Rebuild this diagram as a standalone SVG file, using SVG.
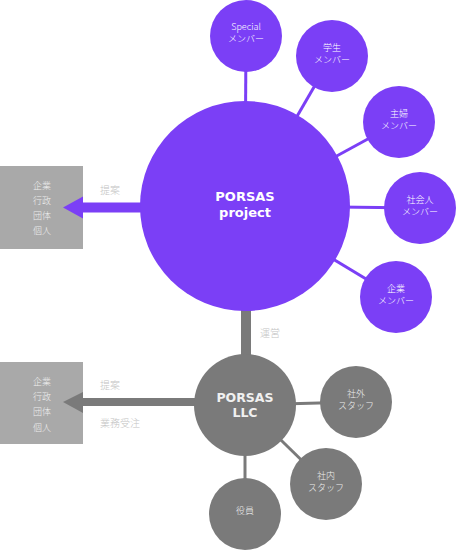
<svg xmlns="http://www.w3.org/2000/svg" width="456" height="550" viewBox="0 0 456 550">
<style>
.p{fill:#7b3ff6}
.g{fill:#7a7a7a}
.box{fill:#a9a9a9}
.lp{stroke:#7b3ff6;stroke-width:3}
.lg{stroke:#7a7a7a;stroke-width:3}
.t{font-family:"Noto Sans CJK JP","Liberation Sans",sans-serif;font-size:9px;fill:#ffffff;text-anchor:middle;font-weight:300}
.tg{font-family:"Noto Sans CJK JP","Liberation Sans",sans-serif;font-size:9px;fill:#eeeeee;text-anchor:middle;font-weight:300}
.bt{font-family:"DejaVu Sans",Verdana,sans-serif;font-size:13px;font-weight:bold;fill:#ffffff;text-anchor:middle}
.lab{font-family:"Noto Sans CJK JP","Liberation Sans",sans-serif;font-size:10px;fill:#c4c4c4;font-weight:300}
</style>
<g id="box1">
<rect class="box" x="0" y="166" width="83" height="83"/>
<text class="tg" x="42" y="189">企業</text>
<text class="tg" x="42" y="204">行政</text>
<text class="tg" x="42" y="219">団体</text>
<text class="tg" x="42" y="234">個人</text>
</g>
<g id="box2">
<rect class="box" x="0" y="362" width="83" height="82"/>
<text class="tg" x="42" y="385">企業</text>
<text class="tg" x="42" y="400">行政</text>
<text class="tg" x="42" y="415">団体</text>
<text class="tg" x="42" y="431">個人</text>
</g>
<g id="connectors">
<line class="lp" x1="245" y1="206" x2="246" y2="36"/>
<line class="lp" x1="245" y1="206" x2="332" y2="56"/>
<line class="lp" x1="245" y1="206" x2="399" y2="122"/>
<line class="lp" x1="245" y1="206" x2="420" y2="208"/>
<line class="lp" x1="245" y1="206" x2="396" y2="297"/>
<rect class="p" x="83" y="202.5" width="60" height="10"/>
<polygon class="p" points="63,207.5 83,196.5 83,218.5"/>
<rect class="g" x="241" y="300" width="10" height="60"/>
<rect class="g" x="83" y="398" width="115" height="8"/>
<polygon class="g" points="63,402 83,392 83,413"/>
<line class="lg" x1="245" y1="405" x2="356" y2="402"/>
<line class="lg" x1="245" y1="405" x2="326" y2="484"/>
<line class="lg" x1="245" y1="405" x2="245" y2="514"/>
<text class="lab" x="100" y="194">提案</text>
<text class="lab" x="260" y="337">運営</text>
<text class="lab" x="100" y="389">提案</text>
<text class="lab" x="100" y="427">業務受注</text>
</g>
<g id="project">
<circle class="p" cx="245" cy="206" r="105"/>
<text class="bt" x="245" y="201">PORSAS</text>
<text class="bt" x="245" y="217">project</text>
</g>
<g id="special">
<circle class="p" cx="246" cy="36" r="36"/>
<text class="t" x="246" y="30">Special</text>
<text class="t" x="246" y="41.5">メンバー</text>
</g>
<g id="gakusei">
<circle class="p" cx="332" cy="56" r="36"/>
<text class="t" x="332" y="51">学生</text>
<text class="t" x="332" y="62.5">メンバー</text>
</g>
<g id="shufu">
<circle class="p" cx="399" cy="122" r="36"/>
<text class="t" x="399" y="117">主婦</text>
<text class="t" x="399" y="128.5">メンバー</text>
</g>
<g id="shakaijin">
<circle class="p" cx="420" cy="208" r="36"/>
<text class="t" x="420" y="203">社会人</text>
<text class="t" x="420" y="214.5">メンバー</text>
</g>
<g id="kigyo-member">
<circle class="p" cx="396" cy="297" r="36"/>
<text class="t" x="396" y="292">企業</text>
<text class="t" x="396" y="303.5">メンバー</text>
</g>
<g id="llc">
<circle class="g" cx="245" cy="405" r="51"/>
<text class="bt" x="245" y="402" style="font-size:12.5px;fill:#f0f0f0">PORSAS</text>
<text class="bt" x="245" y="417" style="font-size:12.5px;fill:#f0f0f0">LLC</text>
</g>
<g id="shagai">
<circle class="g" cx="356" cy="402" r="36"/>
<text class="tg" x="356" y="397">社外</text>
<text class="tg" x="356" y="408.5">スタッフ</text>
</g>
<g id="shanai">
<circle class="g" cx="326" cy="484" r="36"/>
<text class="tg" x="326" y="479">社内</text>
<text class="tg" x="326" y="490.5">スタッフ</text>
</g>
<g id="yakuin">
<circle class="g" cx="245" cy="514" r="36"/>
<text class="tg" x="245" y="514">役員</text>
</g>
</svg>
